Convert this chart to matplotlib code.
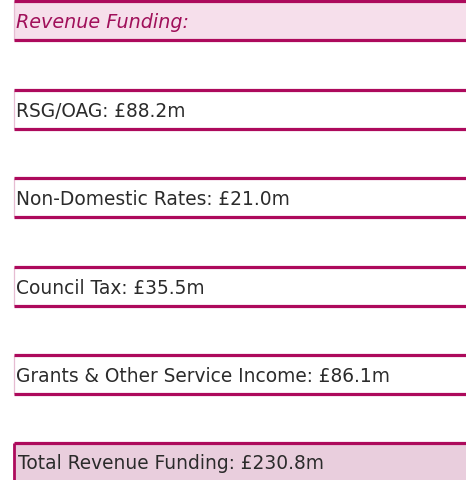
import matplotlib
matplotlib.use("Agg")
import matplotlib.pyplot as plt
from matplotlib.patches import Rectangle

# ---- data ----
title = "Revenue Funding:"
categories = ["RSG/OAG", "Non-Domestic Rates", "Council Tax", "Grants & Other Service Income"]
values = [88.2, 21.0, 35.5, 86.1]
total_label = "Total Revenue Funding"
total_value = 230.8

# ---- layout (pixels) ----
W, H = 466, 481
LEFT = 13.5
RIGHT = 470
BOX_H = 39
header_top = 1.5
item_tops = [90.5, 178.5, 267.5, 355.5]
total_top = 443.5

MAG = "#AD0A5C"
HEADER_FILL = "#F6DFEB"
TOTAL_FILL = "#E9CEDD"
THIN_EDGE = "#E6BCD2"
TXT = "#2B2B2B"
LW = 2.3
FS = 13.4

fig = plt.figure(figsize=(W / 100, H / 100), dpi=100)
ax = fig.add_axes([0, 0, 1, 1])
ax.set_xlim(0, W)
ax.set_ylim(H, 0)
ax.axis("off")


def box(top, fill, left_color, left_lw, bottom=True):
    bot = top + BOX_H
    ax.add_patch(Rectangle((LEFT, top), RIGHT - LEFT, BOX_H if bottom else H - top + 5,
                           facecolor=fill, edgecolor="none"))
    ax.plot([LEFT, LEFT], [top, bot if bottom else H + 5], color=left_color, lw=left_lw,
            solid_capstyle="butt")
    ax.plot([LEFT, RIGHT], [top, top], color=MAG, lw=LW, solid_capstyle="butt")
    if bottom:
        ax.plot([LEFT, RIGHT], [bot, bot], color=MAG, lw=LW, solid_capstyle="butt")
    return (top + (bot if bottom else top + BOX_H)) / 2


cy = box(header_top, HEADER_FILL, THIN_EDGE, 0.9)
ax.text(LEFT + 3, cy + 1, title, fontsize=13.8, style="italic", weight="medium",
        color="#A0105A", va="center", ha="left", family="DejaVu Sans")

for cat, val, top in zip(categories, values, item_tops):
    cy = box(top, "white", THIN_EDGE, 0.9)
    ax.text(LEFT + 3, cy + 1.5, f"{cat}: £{val:.1f}m", fontsize=FS, color=TXT,
            va="center", ha="left", family="DejaVu Sans")

cy = box(total_top, TOTAL_FILL, MAG, 2.0, bottom=False)
ax.text(LEFT + 5, cy + 1, f"{total_label}: £{total_value:.1f}m", fontsize=FS, color=TXT,
        va="center", ha="left", family="DejaVu Sans")

fig.savefig("out.png", dpi=100)
